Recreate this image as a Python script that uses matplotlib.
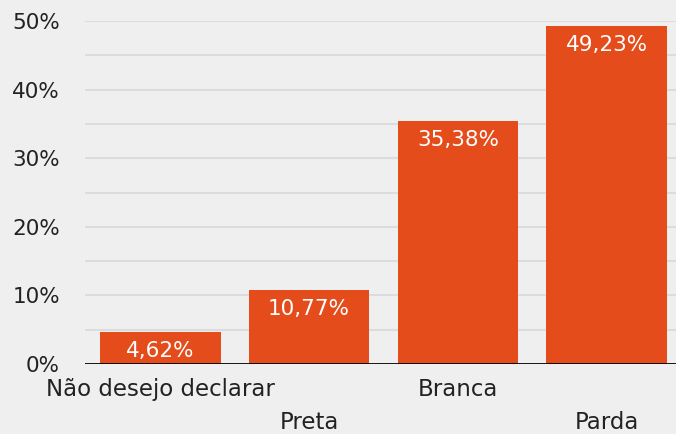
import matplotlib
matplotlib.use("Agg")
import matplotlib.pyplot as plt
from matplotlib.ticker import FuncFormatter

categories = ["Não desejo declarar", "Preta", "Branca", "Parda"]
values = [4.62, 10.77, 35.38, 49.23]
value_labels = ["4,62%", "10,77%", "35,38%", "49,23%"]
yticks = [0, 10, 20, 30, 40, 50]

BG = "#efefef"
BAR = "#e54c1b"
TXT = "#222222"

plt.rcParams["font.family"] = ["DejaVu Sans"]

fig = plt.figure(figsize=(6.76, 4.34), dpi=100, facecolor=BG)
ax = fig.add_axes([0.1257, 0.1613, 0.8743, 0.7903], facecolor=BG)

x = list(range(len(categories)))
bars = ax.bar(x, values, width=0.81, color=BAR, zorder=3)

for b, lab in zip(bars, value_labels):
    ax.annotate(lab, (b.get_x() + b.get_width() / 2, b.get_height()),
                xytext=(0, -6.5), textcoords="offset points",
                ha="center", va="top", color="white", fontsize=15.5, zorder=4)

# gridlines every 5%, labels every 10%
for g in range(5, 55, 5):
    ax.axhline(g, color="#dcdcdc", lw=1.5, zorder=1)
ax.axhline(0, color="black", lw=2, zorder=5)

ax.set_xlim(-0.507, 3.466)
ax.set_ylim(0, 50)
ax.set_yticks(yticks)
ax.yaxis.set_major_formatter(FuncFormatter(lambda v, p: f"{v:.0f}%"))
ax.tick_params(axis="y", length=0, pad=18, labelsize=15.5, labelcolor=TXT)

ax.set_xticks(x)
ax.set_xticklabels([c if i % 2 == 0 else "\n" + c for i, c in enumerate(categories)])
ax.tick_params(axis="x", length=0, pad=10, labelsize=16.5, labelcolor=TXT)
for lab in ax.get_xticklabels():
    lab.set_linespacing(1.55)

for s in ax.spines.values():
    s.set_visible(False)

fig.savefig("out.png", dpi=100, facecolor=BG)
